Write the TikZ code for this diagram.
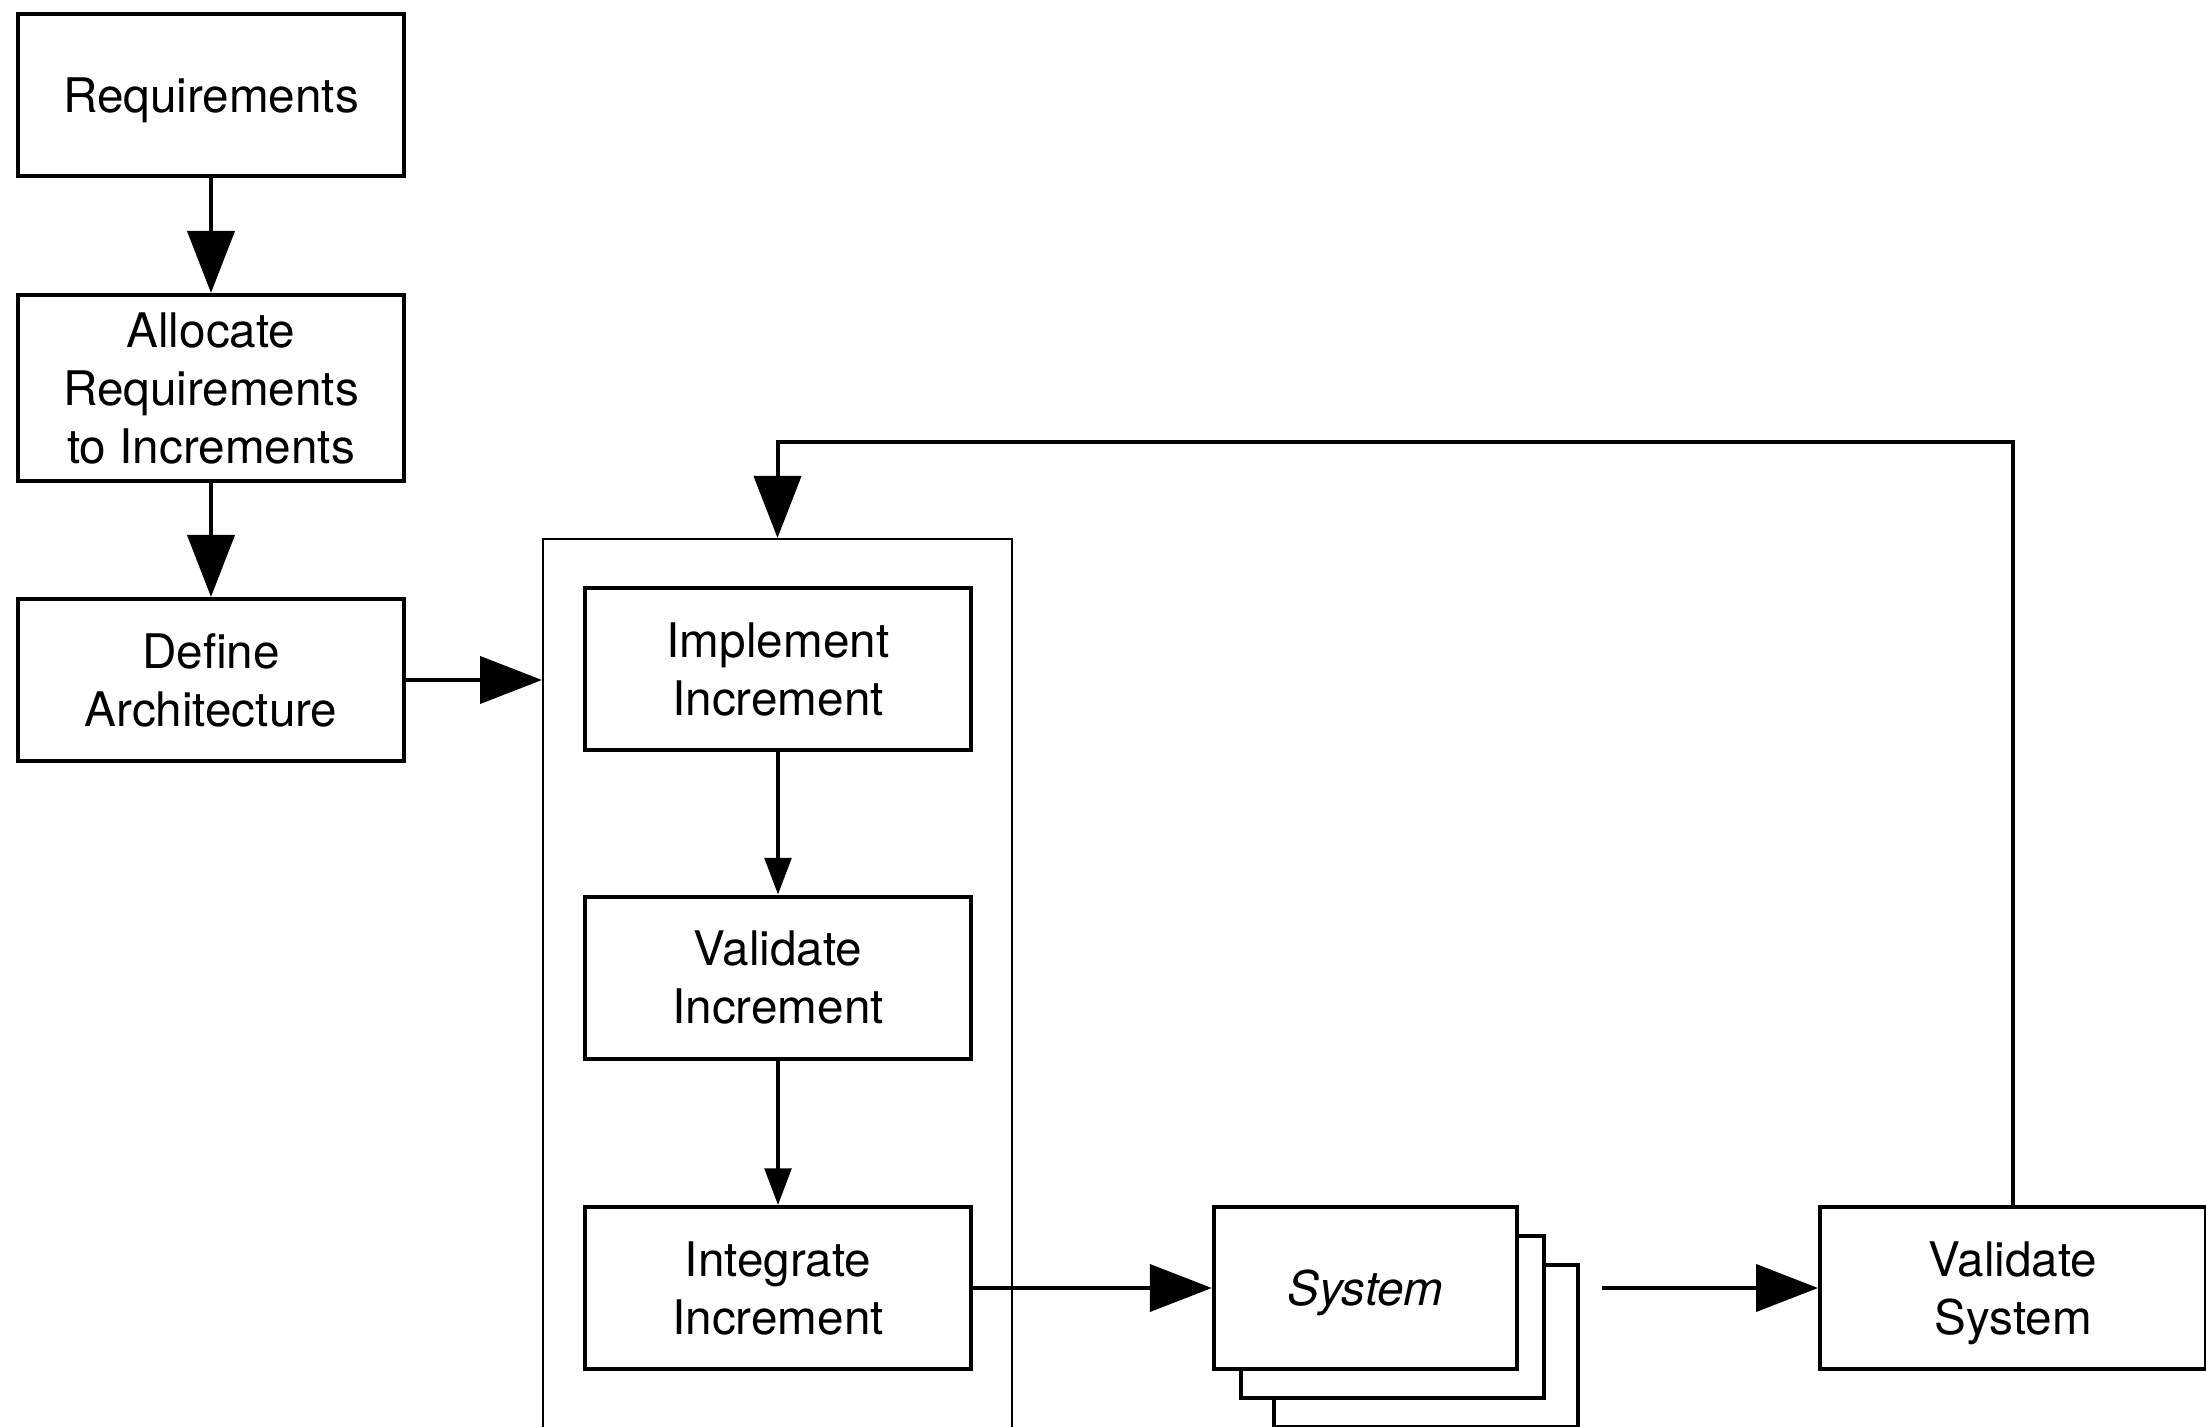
\documentclass[tikz,border=0pt]{standalone}
\usepackage{fontspec}
\setmainfont{TeX Gyre Heros}
\usetikzlibrary{arrows.meta,calc}
\begin{document}
\begin{tikzpicture}[x=0.3pt,y=-0.3pt,
  stepbox/.style={draw, line width=1.2pt, rectangle, inner sep=0pt, align=center,
    fill=white, font=\fontsize{14.3pt}{17.4pt}\selectfont, text depth=0pt,
    minimum width=115.8pt, minimum height=48.6pt},
  stackbox/.style={stepbox, minimum width=91pt},
  groupframe/.style={draw, line width=0.6pt, rectangle, inner sep=0pt,
    minimum width=140.7pt, minimum height=267.3pt},
  bigflow/.style={line width=1.2pt, -{Triangle[length=18.6pt,width=14.1pt]}},
  smallflow/.style={line width=1.1pt, -{Triangle[length=11pt,width=8pt]}}
]
\useasboundingbox (0,0) rectangle (2206,1427);

% left column
\node[stepbox] (req) at (211,95) {Requirements};
\node[stepbox, minimum height=55.8pt] (alloc) at (211,388) {Allocate\\Requirements\\to Increments};
\node[stepbox] (define) at (211,680) {Define\\Architecture};

% increment frame and its steps
\node[groupframe] (grp) at (777.5,984.5) {};
\node[stepbox] (impl) at (778,669.5) {Implement\\Increment};
\node[stepbox] (valinc) at (778,977.5) {Validate\\Increment};
\node[stepbox] (integ) at (778,1288) {Integrate\\Increment};

% stacked system documents
\node[stackbox] (sys3) at (1426,1345.5) {};
\node[stackbox] (sys2) at (1392.5,1316.5) {};
\node[stackbox] (sys) at (1365.5,1288) {\itshape System};

\node[stepbox] (valsys) at (2013,1288) {Validate\\System};

% connectors
\draw[bigflow] (req) -- (alloc);
\draw[bigflow] (alloc) -- (define);
\draw[bigflow] (define.east) -- (define.east -| grp.west);
\draw[smallflow] (impl) -- (valinc);
\draw[smallflow] (valinc) -- (integ);
\draw[bigflow] (integ.east) -- (sys.west);
\coordinate (sysout) at ($(sys3.east |- sys.east)+(22,0)$);
\draw[bigflow] (sysout) -- (valsys.west);
\coordinate (looptop) at (1400,442);
\draw[bigflow] (valsys.north) |- (looptop) -| (grp.north);
\end{tikzpicture}
\end{document}
